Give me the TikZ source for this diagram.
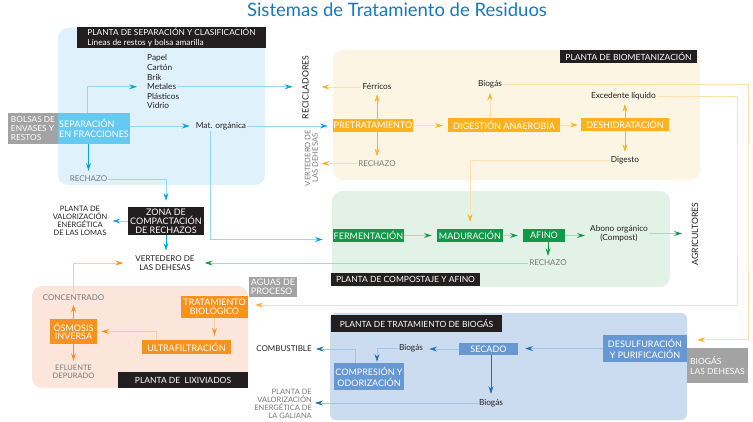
\documentclass[tikz,border=0pt]{standalone}
\usepackage{fontspec}
\setmainfont{Lato}
\usetikzlibrary{arrows.meta,positioning}

% colours of the five plants
\definecolor{titleblue}{RGB}{20,122,192}
\definecolor{headblack}{RGB}{35,31,32}
\definecolor{boxgrey}{RGB}{163,163,163}
\definecolor{textgrey}{RGB}{120,120,120}
\definecolor{sepfill}{RGB}{223,241,251}
\definecolor{sepblue}{RGB}{102,201,241}
\definecolor{tipblue}{RGB}{0,165,228}
\definecolor{lineblue}{RGB}{150,215,243}
\definecolor{biofill}{RGB}{253,245,227}
\definecolor{bioyellow}{RGB}{252,178,32}
\definecolor{lineyellow}{RGB}{253,226,175}
\definecolor{compfill}{RGB}{227,242,231}
\definecolor{compgreen}{RGB}{17,152,72}
\definecolor{linegreen}{RGB}{163,221,188}
\definecolor{lixfill}{RGB}{252,229,219}
\definecolor{lixorange}{RGB}{246,146,30}
\definecolor{lineorange}{RGB}{250,205,168}
\definecolor{gasfill}{RGB}{204,220,240}
\definecolor{gasblue}{RGB}{104,152,211}
\definecolor{tipdark}{RGB}{24,112,192}
\definecolor{linegas}{RGB}{160,196,234}

\tikzset{
	txt/.style={inner sep=1pt, text=headblack, font=\fontsize{8.3}{9}\selectfont},
	lbl/.style={txt, align=center, font=\fontsize{8}{8.5}\selectfont},
	grey/.style={text=textgrey},
	pbox/.style={inner sep=0pt, fill=#1, text=white, align=center, font=\fontsize{9}{9}\selectfont},
	sz/.style 2 args={minimum width=#1pt, minimum height=#2pt},
	head/.style={pbox=headblack, font=\fontsize{8.5}{9}\selectfont},
	flow/.style 2 args={draw=#1, line width=.7pt, -{Stealth[length=8pt,width=5pt,inset=3pt,color=#2]}},
}

\begin{document}
\begin{tikzpicture}[x=1pt,y=-1pt]
	\useasboundingbox (0,0) rectangle (753,422);
	% backgrounds of the plants
	\fill[sepfill,rounded corners=10pt] (58,28) rectangle (265,185);
	\fill[biofill,rounded corners=10pt] (333,50) rectangle (700,180);
	\fill[compfill,rounded corners=10pt] (332,191) rectangle (670,287);
	\fill[lixfill,rounded corners=10pt] (32,286) rectangle (248,388);
	\fill[gasfill,rounded corners=6pt] (330,313) rectangle (687,420);
	
	\node[font=\fontsize{18.5}{20}\selectfont, text=titleblue] (title) at (397,10) {Sistemas de Tratamiento de Residuos};
	
	% black headers
	\node[head,sz={189}{21},align=left,font=\fontsize{8.3}{9.5}\selectfont] (sephead) at (171.5,37.5) {PLANTA DE SEPARACIÓN Y CLASIFICACIÓN\\Líneas de restos y bolsa amarilla};
	\node[head,sz={137}{13}] (biohead) at (628.5,56.5) {PLANTA DE BIOMETANIZACIÓN};
	\node[head,sz={149}{13}] (comphead) at (405.5,279.5) {PLANTA DE COMPOSTAJE Y AFINO};
	\node[head,sz={130}{16}] (lixhead) at (183,380) {PLANTA DE~ LIXIVIADOS};
	\node[head,sz={171}{17}] (gashead) at (416.5,323.5) {PLANTA DE TRATAMIENTO DE BIOGÁS};
	
	% separation plant
	\node[pbox=boxgrey,sz={50}{31},align=left,font=\fontsize{8.3}{9.3}\selectfont] (bolsas) at (33,128.5) {BOLSAS DE\\ENVASES Y\\RESTOS};
	\node[pbox=sepblue,sz={72}{31},align=left,font=\fontsize{9}{10.5}\selectfont] (sep) at (94,128.5) {SEPARACIÓN\\EN FRACCIONES};
	\foreach \name [count=\i] in {Papel,Cartón,Brik,Metales,Plásticos,Vidrio}
		\node[txt,anchor=west] (frac\i) at (146,{58.3+9.5*(\i-1)}) {\name};% frac4 = Metales
	\node[txt] (matorg) at (221,126) {Mat. orgánica};
	\node[lbl,grey] (rech1) at (88.5,179) {RECHAZO};
	\node[pbox=headblack,sz={76}{28},font=\fontsize{9}{8.2}\selectfont] (zona) at (166,221) {ZONA DE\\COMPACTACIÓN\\DE RECHAZOS};
	\node[lbl,font=\fontsize{7.5}{8}\selectfont] (lomas) at (80,220.5) {PLANTA DE\\VALORIZACIÓN\\ENERGÉTICA\\DE LAS LOMAS};
	\node[lbl] (vert) at (165,263) {VERTEDERO DE\\LAS DEHESAS};
	\node[lbl,rotate=90,font=\fontsize{8.7}{9}\selectfont] (recycl) at (305.5,87.5) {RECICLADORES};
	\node[lbl,grey,rotate=90,font=\fontsize{7.6}{7.5}\selectfont] (vertdeh) at (311.5,158) {VERTEDERO DE\\LAS DEHESAS};
	
	% biomethanization plant
	\node[pbox=bioyellow,sz={80}{13}] (pret) at (373,125.5) {PRETRATAMIENTO};
	\node[pbox=bioyellow,sz={112}{14}] (dig) at (504,125) {DIGESTIÓN ANAEROBIA};
	\node[pbox=bioyellow,sz={88}{13}] (desh) at (625,124.5) {DESHIDRATACIÓN};
	\node[txt] (fer) at (377,87) {Férricos};
	\node[lbl,grey] (rech2) at (377,163.5) {RECHAZO};
	\node[txt] (biog1) at (490,84.5) {Biogás};
	\node[txt] (exced) at (623.5,96) {Excedente líquido};
	\node[txt] (digesto) at (625,160) {Digesto};
	
	% composting plant
	\node[pbox=compgreen,sz={71}{13}] (ferm) at (368.5,235.5) {FERMENTACIÓN};
	\node[pbox=compgreen,sz={66}{13}] (mad) at (470,235.5) {MADURACIÓN};
	\node[pbox=compgreen,sz={42}{13}] (afino) at (544,235.5) {AFINO};
	\node[txt,align=center] (abono) at (619,233.5) {Abono orgánico\\(Compost)};
	\node[lbl,grey] (rech3) at (548,263) {RECHAZO};
	\node[lbl,rotate=90,font=\fontsize{8.7}{9}\selectfont] (agric) at (695,234) {AGRICULTORES};
	
	% leachate plant
	\node[pbox=boxgrey,sz={48}{20},align=left,font=\fontsize{9}{8.5}\selectfont] (aguas) at (273,287) {AGUAS DE\\PROCESO};
	\node[pbox=lixorange,sz={67}{22},font=\fontsize{9}{8.2}\selectfont] (trat) at (214.5,307) {TRATAMIENTO\\BIOLÓGICO};
	\node[pbox=lixorange,sz={89}{14}] (ultra) at (186.5,347) {ULTRAFILTRACIÓN};
	\node[pbox=lixorange,sz={47}{25},font=\fontsize{9}{8.2}\selectfont] (osmo) at (73.5,331.5) {ÓSMOSIS\\INVERSA};
	\node[lbl,grey] (conc) at (73.5,297.5) {CONCENTRADO};
	\node[lbl,grey,font=\fontsize{7.5}{8}\selectfont] (eflu) at (73.5,372) {EFLUENTE\\DEPURADO};
	
	% biogas plant
	\node[pbox=gasblue,sz={59}{12}] (secado) at (488.5,349) {SECADO};
	\node[pbox=gasblue,sz={84}{27},font=\fontsize{9}{11}\selectfont] (desulf) at (645,348.5) {DESULFURACIÓN\\Y PURIFICACIÓN};
	\node[pbox=boxgrey,sz={61}{35},align=left,font=\fontsize{8.5}{10}\selectfont] (bgdeh) at (717.5,365.5) {BIOGÁS\\LAS DEHESAS};
	\node[pbox=gasblue,sz={70}{27},font=\fontsize{9}{11}\selectfont] (comp) at (369,376.5) {COMPRESIÓN Y\\ODORIZACIÓN};
	\node[txt] (biog2) at (411,348) {Biogás};
	\node[txt] (biog3) at (491,403) {Biogás};
	\node[lbl] (comb) at (284,349) {COMBUSTIBLE};
	\node[lbl,grey,anchor=east,align=right,font=\fontsize{7.5}{8}\selectfont] (galiana) at (313,404) {PLANTA DE\\VALORIZACIÓN\\ENERGÉTICA DE\\LA GALIANA};
	
	% flows of the separation plant
	\draw[flow={lineblue}{tipblue},shorten >=9pt] ([xshift=30pt]sep.north west) |- (frac4.west);
	\draw[flow={lineblue}{tipblue},shorten >=5pt] (sep.east |- matorg.west) -- (matorg.west);
	\draw[flow={tipblue}{tipblue},shorten >=4pt] (rech1.north |- sep.south) -- (rech1.north);
	\draw[flow={lineblue}{tipblue},shorten >=6pt] (rech1.east) -| (zona.north);
	\draw[flow={lineblue}{tipblue},shorten >=13pt] (frac4.east) -- (frac4.east -| recycl);
	\draw[flow={lineblue}{tipblue},shorten >=5pt] (matorg.east) -- (matorg.east -| pret.west);
	\draw[flow={lineblue}{tipblue},shorten >=10pt] ([xshift=-11pt]matorg.south) |- ([yshift=-4pt]ferm.west);
	\draw[flow={lineblue}{tipblue},shorten >=4pt] (zona.west) -- (zona.west -| lomas.east);
	\draw[flow={tipblue}{tipblue},shorten >=4pt] (zona.south) -- (zona.south |- vert.north);
	
	% flows of the biomethanization plant
	\draw[flow={bioyellow}{bioyellow},shorten >=3pt] (fer.south |- pret.north) -- (fer.south);
	\draw[flow={bioyellow}{bioyellow},shorten >=3pt] (rech2.north |- pret.south) -- (rech2.north);
	\draw[flow={lineyellow}{bioyellow},shorten >=5pt] (pret.east) -- (pret.east -| dig.west);
	\draw[flow={lineyellow}{bioyellow},shorten >=3pt] (dig.east) -- (dig.east -| desh.west);
	\draw[flow={lineyellow}{bioyellow},shorten >=3pt] (biog1.south |- dig.north) -- (biog1.south);
	\draw[flow={bioyellow}{bioyellow},shorten >=3pt] (desh.north) -- (desh.north |- exced.south);
	\draw[flow={bioyellow}{bioyellow},shorten >=3pt] (desh.south) -- (desh.south |- digesto.north);
	\draw[flow={lineyellow}{bioyellow},shorten >=16pt] (fer.west) -- (fer.west -| recycl);
	\draw[flow={lineyellow}{bioyellow},shorten >=10pt] (rech2.west) -- (rech2.west -| vertdeh);
	\draw[flow={lineyellow}{bioyellow},shorten >=7pt] (digesto.west) -| (mad.north);
	\coordinate (busA) at (748,200);
	\coordinate (busB) at (737,200);
	\draw[flow={lineyellow}{bioyellow},shorten >=10pt] (biog1.east) -| (busA) |- ([yshift=-5pt]desulf.north east);
	\draw[flow={lineyellow}{bioyellow},shorten >=7pt] (exced.east) -| (busB) |- ([yshift=2pt]trat.east);
	
	% flows of the composting plant
	\draw[flow={linegreen}{compgreen},shorten >=5pt] (ferm.east) -- (mad.west);
	\draw[flow={linegreen}{compgreen},shorten >=5pt] (mad.east) -- (afino.west);
	\draw[flow={linegreen}{compgreen},shorten >=4pt] (afino.east) -- (afino.east -| abono.west);
	\draw[flow={linegreen}{compgreen},shorten >=13pt] (abono.east) -- (abono.east -| agric);
	\draw[flow={compgreen}{compgreen},shorten >=3pt] (rech3.north |- afino.south) -- (rech3.north);
	\draw[flow={linegreen}{compgreen},shorten >=9pt] (rech3.west) -- (rech3.west -| vert.east);
	
	% flows of the leachate plant
	\draw[flow={lineorange}{lixorange},shorten >=4pt] (trat.south) -- (trat.south |- ultra.north);
	\draw[flow={lineorange}{lixorange},shorten >=4pt] ([xshift=-30pt]ultra.north) |- (osmo.east);
	\draw[flow={lixorange}{lixorange},shorten >=3pt] (osmo.north) -- (conc.south);
	\draw[flow={lixorange}{lixorange},shorten >=3pt] (osmo.south) -- (eflu.north);
	\draw[flow={lineorange}{lixorange},shorten >=11pt] (conc.north) |- (vert.west);
	
	% flows of the biogas plant
	\draw[flow={linegas}{tipdark},shorten >=7pt] (desulf.west) -- (desulf.west -| secado.east);
	\draw[flow={linegas}{tipdark},shorten >=5pt] (secado.west) -- (secado.west -| biog2.east);
	\draw[flow={linegas}{tipdark},shorten >=1pt] (biog2.west) -| ([xshift=8pt]comp.north);
	\draw[flow={linegas}{tipdark},shorten >=3pt] ([xshift=-14pt]comp.north) |- (comb.east);
	\draw[flow={tipdark}{tipdark},shorten >=4pt] (secado.south -| biog3.north) -- (biog3.north);
	\draw[flow={linegas}{tipdark},shorten >=2pt] (biog3.west) -- (biog3.west -| galiana.east);
\end{tikzpicture}
\end{document}
